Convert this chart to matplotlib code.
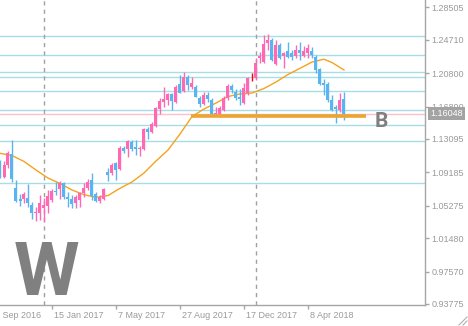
import matplotlib
matplotlib.use("Agg")
import matplotlib.pyplot as plt
import matplotlib.transforms as mtransforms
from matplotlib.lines import Line2D

plt.rcParams['font.family'] = ['Liberation Sans', 'DejaVu Sans']

# Weekly EURUSD bars; x is the week number counted from 25 Sep 2016
weeks = list(range(3, 90))
opens = [1.0973, 1.0868, 1.1005, 1.1139, 1.0732, 1.0603, 1.0607, 1.0622, 1.0536, 1.0439,
         1.0446, 1.0501, 1.0525, 1.0595, 1.0706, 1.0720, 1.0797, 1.0633, 1.0607, 1.0563,
         1.0595, 1.0673, 1.0732, 1.0829, 1.0665, 1.0587, 1.0607, 1.0926, 1.0907, 1.1024,
         1.0954, 1.1207, 1.1188, 1.1277, 1.1212, 1.1188, 1.1192, 1.1422, 1.1394, 1.1461,
         1.1657, 1.1739, 1.1765, 1.1836, 1.1746, 1.1949, 1.1874, 1.2031, 1.1914, 1.1914,
         1.1792, 1.1719, 1.1824, 1.1765, 1.1598, 1.1598, 1.1648, 1.1785, 1.1929, 1.1863,
         1.1804, 1.1734, 1.1844, 1.2031, 1.2019, 1.2254, 1.2207, 1.2429, 1.2468, 1.2183,
         1.2409, 1.2284, 1.2339, 1.2319, 1.2286, 1.2345, 1.2286, 1.2316, 1.2339, 1.2272,
         1.2125, 1.1968, 1.1947, 1.1771, 1.1687, 1.1648, 1.1774]
highs = [1.1063, 1.1051, 1.1168, 1.1297, 1.0829, 1.0662, 1.0685, 1.0779, 1.0575, 1.0509,
         1.0653, 1.0615, 1.0712, 1.0720, 1.0809, 1.0817, 1.0806, 1.0692, 1.0653, 1.0653,
         1.0692, 1.0790, 1.0837, 1.0914, 1.0692, 1.0653, 1.0732, 1.0966, 1.1024, 1.1043,
         1.1227, 1.1227, 1.1297, 1.1297, 1.1297, 1.1227, 1.1434, 1.1453, 1.1511, 1.1687,
         1.1785, 1.1921, 1.1844, 1.1844, 1.1941, 1.2058, 1.2097, 1.2058, 1.2038, 1.1941,
         1.1812, 1.1863, 1.1863, 1.1785, 1.1687, 1.1695, 1.1812, 1.1953, 1.1953, 1.1891,
         1.1891, 1.1961, 1.2038, 1.2085, 1.2254, 1.2331, 1.2526, 1.2535, 1.2495, 1.2468,
         1.2433, 1.2331, 1.2448, 1.2351, 1.2409, 1.2444, 1.2398, 1.2421, 1.2389, 1.2292,
         1.2140, 1.2008, 1.1980, 1.1824, 1.1707, 1.1851, 1.1863]
lows = [1.0852, 1.0858, 1.0969, 1.0809, 1.0575, 1.0525, 1.0563, 1.0509, 1.0369, 1.0353,
        1.0361, 1.0341, 1.0443, 1.0575, 1.0653, 1.0603, 1.0603, 1.0509, 1.0498, 1.0498,
        1.0516, 1.0633, 1.0712, 1.0595, 1.0575, 1.0563, 1.0595, 1.0821, 1.0887, 1.0829,
        1.0946, 1.1149, 1.1102, 1.1172, 1.1122, 1.1110, 1.1180, 1.1309, 1.1383, 1.1453,
        1.1602, 1.1687, 1.1707, 1.1648, 1.1727, 1.1844, 1.1863, 1.1883, 1.1891, 1.1797,
        1.1687, 1.1707, 1.1746, 1.1578, 1.1582, 1.1570, 1.1637, 1.1765, 1.1844, 1.1765,
        1.1707, 1.1724, 1.1824, 1.1988, 1.2008, 1.2195, 1.2195, 1.2351, 1.2222, 1.2175,
        1.2245, 1.2144, 1.2254, 1.2234, 1.2254, 1.2234, 1.2269, 1.2257, 1.2254, 1.2078,
        1.1941, 1.1824, 1.1746, 1.1640, 1.1500, 1.1628, 1.1531]
closes = [1.0868, 1.1005, 1.1145, 1.0837, 1.0583, 1.0587, 1.0662, 1.0556, 1.0439, 1.0454,
          1.0563, 1.0536, 1.0642, 1.0700, 1.0683, 1.0790, 1.0633, 1.0607, 1.0548, 1.0633,
          1.0680, 1.0732, 1.0802, 1.0642, 1.0587, 1.0626, 1.0724, 1.0887, 1.1005, 1.0946,
          1.1207, 1.1168, 1.1289, 1.1188, 1.1188, 1.1207, 1.1426, 1.1394, 1.1481, 1.1668,
          1.1757, 1.1777, 1.1832, 1.1757, 1.1921, 1.1851, 1.2038, 1.1941, 1.1961, 1.1804,
          1.1719, 1.1824, 1.1774, 1.1598, 1.1617, 1.1675, 1.1792, 1.1929, 1.1883, 1.1785,
          1.1777, 1.1902, 1.2019, 1.2031, 1.2195, 1.2284, 1.2421, 1.2468, 1.2234, 1.2409,
          1.2254, 1.2319, 1.2272, 1.2272, 1.2345, 1.2319, 1.2339, 1.2374, 1.2292, 1.2117,
          1.1953, 1.1938, 1.1765, 1.1643, 1.1657, 1.1765, 1.16048]

# Moving average
ma_weeks = [3, 6, 9, 12, 15, 18, 21, 24, 27, 30, 33, 36, 39, 42, 45, 48, 51, 54, 57,
            60, 63, 66, 69, 72, 75, 78, 81, 84, 86, 88, 89]
ma_vals = [1.1141, 1.1116, 1.1046, 1.0946, 1.0852, 1.0788, 1.0712, 1.0657, 1.0626,
           1.0647, 1.0732, 1.0806, 1.0911, 1.1051, 1.1180, 1.1367, 1.1572, 1.1660,
           1.1730, 1.1806, 1.1836, 1.1847, 1.1900, 1.1976, 1.2064, 1.2136, 1.2210,
           1.2243, 1.2204, 1.2146, 1.2117]

# Horizontal levels
levels = [1.2515, 1.2292, 1.2093, 1.2035, 1.1871, 1.1648, 1.1473, 1.1285, 1.0794]
support_level = 1.1578
support_span = [50.75, 94.5]
last_price = 1.16048

# Axis ticks
y_ticks = [1.28505, 1.24710, 1.20800, 1.16890, 1.13095, 1.09185, 1.05275, 1.01480,
           0.97570, 0.93775]
x_tick_weeks = [0, 16, 32, 48, 64, 80]
x_tick_labels = ["25 Sep 2016", "15 Jan 2017", "7 May 2017", "27 Aug 2017",
                 "17 Dec 2017", "8 Apr 2018"]
year_starts = [14, 67]

BULL = '#ff69b4'
BEAR = '#5ab4f2'
DOJI = '#ff0000'
AXIS = '#a6a6a6'
TEXT = '#9a9a9a'

W, H = 468, 326
fig = plt.figure(figsize=(W / 100, H / 100), dpi=100)
fig.patch.set_facecolor('white')
ax = fig.add_axes([0, 21 / H, 425 / W, 305 / H])
ax.set_xlim(3, 109.25)
ax.set_ylim(0.93657, 1.29360)

for s in ['top', 'left']:
    ax.spines[s].set_visible(False)
for s in ['right', 'bottom']:
    ax.spines[s].set_color(AXIS)
    ax.spines[s].set_linewidth(1.0)

# levels
for lv in levels:
    ax.axhline(lv, color='#a8dde6', lw=1.0, zorder=1)
ax.axhline(last_price, color='#ffc0cb', lw=1.0, zorder=1)

# year separators
for ys in year_starts:
    ax.axvline(ys, color='#a0a0a0', lw=1.0, ls=(0, (3, 3)), zorder=1)

# moving average
ax.plot(ma_weeks, ma_vals, color='#f5a21c', lw=1.0, zorder=2)

# candles
colors = []
for o, c in zip(opens, closes):
    if c > o:
        colors.append(BULL)
    elif c < o:
        colors.append(BEAR)
    else:
        colors.append(DOJI)
ax.vlines(weeks, lows, highs, colors=colors, lw=1.0, zorder=3)
bottoms = [min(o, c) for o, c in zip(opens, closes)]
heights = [max(abs(c - o), 0.0009) for o, c in zip(opens, closes)]
ax.bar(weeks, heights, bottom=bottoms, width=0.75, color=colors, lw=0, zorder=4)

# support line
ax.plot(support_span, [support_level, support_level], color='#eba530', lw=2.6,
        solid_capstyle='butt', zorder=5)

# y axis on the right
ax.yaxis.tick_right()
ax.set_yticks(y_ticks)
ax.set_yticklabels([f"{v:.5f}" for v in y_ticks])
ax.tick_params(axis='y', direction='out', length=3, width=1, color=AXIS,
               labelsize=6.5, labelcolor=TEXT, pad=1.5)

# x axis
ax.set_xticks([w for w in x_tick_weeks if w >= 3])
ax.set_xticklabels([])
ax.tick_params(axis='x', direction='out', length=3, width=1, color=AXIS)
lab_tr = mtransforms.offset_copy(ax.get_xaxis_transform(), fig=fig, x=2, y=-11,
                                 units='dots')
for w, lab in zip(x_tick_weeks, x_tick_labels):
    ax.text(w, 0, lab, transform=lab_tr, ha='left', va='center', fontsize=6.5,
            color=TEXT, clip_on=False)

# last price marker
ax.annotate(f"{last_price:.5f}", xy=(1.0, last_price),
            xycoords=('axes fraction', 'data'), xytext=(5, 0),
            textcoords='offset pixels', ha='left', va='center', fontsize=6.5,
            color='white', annotation_clip=False, zorder=10,
            bbox=dict(boxstyle='square,pad=0.22', fc='#a3a3a3', ec='none'))

# pattern letters
fig.text(14 / W, (H - 295) / H, 'W', fontsize=54, color='#808080', ha='left',
         va='baseline', family=['Roboto', 'DejaVu Sans'], fontweight='bold')
fig.text(375 / W, (H - 127) / H, 'B', fontsize=15, color='#808080', ha='left',
         va='baseline', family=['Roboto', 'DejaVu Sans'], fontweight='bold')

# resize grip
for x0 in (459, 463):
    fig.add_artist(Line2D([x0 / W, 467 / W], [(H - 325) / H, (H - 325 + 467 - x0) / H],
                          color='#b0b0b0', lw=0.8))

fig.savefig('out.png', dpi=100)
